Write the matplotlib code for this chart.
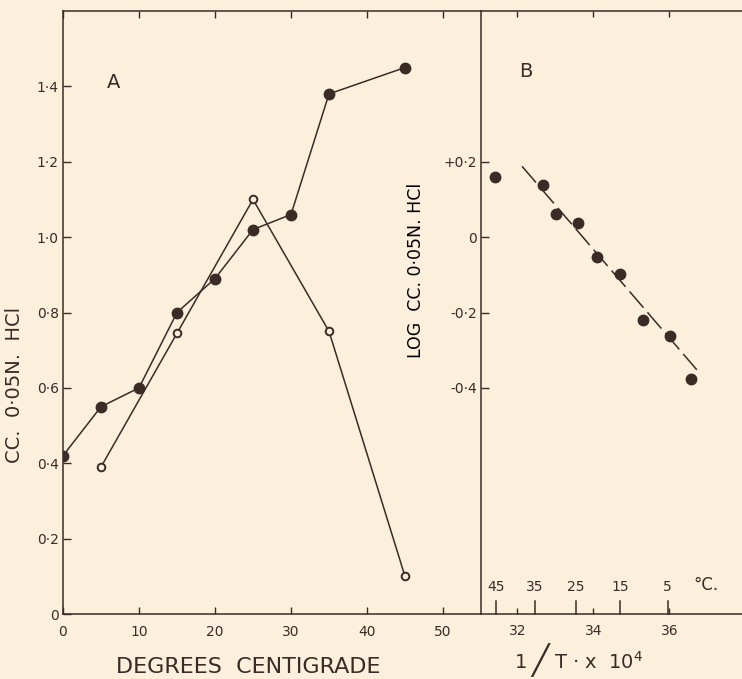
import matplotlib
matplotlib.use("Agg")
import matplotlib.pyplot as plt
from matplotlib.transforms import blended_transform_factory

# panel A: cc of 0.05N HCl against temperature
temp_filled = [0, 5, 10, 15, 20, 25, 30, 35, 45]
cc_filled = [0.42, 0.55, 0.60, 0.80, 0.89, 1.02, 1.06, 1.38, 1.45]
temp_open = [5, 15, 25, 35, 45]
cc_open = [0.39, 0.745, 1.10, 0.75, 0.10]

# panel B: log cc against 1/T x 10^4
inv_t = [31.41, 32.67, 33.01, 33.59, 34.09, 34.70, 35.30, 36.01, 36.57]
log_cc = [0.16, 0.138, 0.062, 0.037, -0.053, -0.098, -0.22, -0.262, -0.376]
fit_x = [32.12, 36.72]
fit_y = [0.188, -0.352]
celsius_marks = [45, 35, 25, 15, 5]

a_xticks = [0, 10, 20, 30, 40, 50]
a_yticks = [0, 0.2, 0.4, 0.6, 0.8, 1.0, 1.2, 1.4]
a_ylabels = ['0', '0·2', '0·4', '0·6', '0·8', '1·0', '1·2', '1·4']
b_xticks = [32, 34, 36]
b_yticks = [0.2, 0, -0.2, -0.4]
b_ylabels = ['+0·2', '0', '-0·2', '-0·4']

ink = '#3a2b26'
paper = '#fcf0dc'

plt.rcParams['font.family'] = ['DejaVu Sans']
plt.rcParams['text.color'] = ink
plt.rcParams['axes.edgecolor'] = ink
plt.rcParams['xtick.color'] = ink
plt.rcParams['ytick.color'] = ink

fig = plt.figure(figsize=(7.42, 6.79), dpi=100, facecolor=paper)

# ---- panel A ----
axA = fig.add_axes([63 / 742, 65 / 679, 418 / 742, 603 / 679])
axA.set_facecolor(paper)
axA.plot(temp_filled, cc_filled, color=ink, lw=1.1, marker='o', ms=7.5,
         mfc=ink, mec=ink, zorder=3)
axA.plot(temp_open, cc_open, color=ink, lw=1.1, marker='o', ms=5.5,
         mfc=paper, mec=ink, mew=1.4, zorder=3)
axA.set_xlim(0, 55)
axA.set_ylim(0, 1.6)
axA.set_xticks(a_xticks)
axA.set_xticklabels([str(t) for t in a_xticks])
axA.set_yticks(a_yticks)
axA.set_yticklabels(a_ylabels)
axA.tick_params(axis='x', direction='in', length=5, width=1, labelsize=10,
                pad=8, top=True)
axA.tick_params(axis='y', direction='in', length=6, width=1, labelsize=10,
                pad=3)
axA.spines['right'].set_visible(False)
for s in ['left', 'bottom', 'top']:
    axA.spines[s].set_linewidth(1.1)
axA.text(6.6, 1.41, 'A', fontsize=14, ha='center', va='center')

# ---- panel B ----
axB = fig.add_axes([481 / 742, 65 / 679, 261 / 742, 603 / 679])
axB.set_facecolor(paper)
axB.plot(inv_t, log_cc, 'o', color=ink, ms=7.5, zorder=3)
axB.plot(fit_x, fit_y, color=ink, lw=1.1, linestyle=(0, (14, 4)))
axB.set_xlim(31.04, 37.91)
axB.set_ylim(-1.0, 0.6)
axB.set_xticks(b_xticks)
axB.set_xticklabels([str(t) for t in b_xticks])
axB.set_yticks(b_yticks)
axB.set_yticklabels(b_ylabels)
axB.tick_params(axis='x', direction='in', length=4, width=1, labelsize=10,
                pad=7, top=True)
axB.tick_params(axis='y', direction='in', length=6, width=1, labelsize=10,
                pad=3)
axB.spines['right'].set_visible(False)
for s in ['left', 'bottom', 'top']:
    axB.spines[s].set_linewidth(1.1)
axB.text(0.17, 0.9, 'B', transform=axB.transAxes, fontsize=14,
         ha='center', va='center')

# temperature scale drawn inside along the bottom of B
trans = blended_transform_factory(axB.transData, axB.transAxes)
for c in celsius_marks:
    x = 1e4 / (c + 273.15)
    axB.plot([x, x], [0, 0.022], color=ink, lw=1.1, transform=trans,
             clip_on=False)
    axB.text(x, 0.033, str(c), transform=trans, fontsize=10,
             ha='center', va='bottom')
axB.text(0.815, 0.033, '°C.', transform=axB.transAxes, fontsize=12,
         ha='left', va='bottom')

axB.set_ylabel('LOG  CC. 0·05N. HCl', fontsize=12.5, labelpad=6)
axB.yaxis.set_label_coords(-0.215, 0.57)

# ---- axis titles ----
fig.text(15 / 742, 1 - 385 / 679, 'CC.  0·05N.  HCl', rotation=90,
         fontsize=14, ha='center', va='center')
fig.text(248 / 742, 1 - 667 / 679, 'DEGREES  CENTIGRADE', fontsize=16,
         ha='center', va='center')
fig.text(521 / 742, 1 - 662 / 679, '1', fontsize=14, ha='center', va='center')
fig.text(540 / 742, 1 - 660 / 679, '╱', fontsize=21, ha='center', va='center')
fig.text(554 / 742, 1 - 662 / 679, 'T · x  10$^4$', fontsize=14,
         ha='left', va='center')

fig.savefig('out.png', dpi=100, facecolor=paper)
